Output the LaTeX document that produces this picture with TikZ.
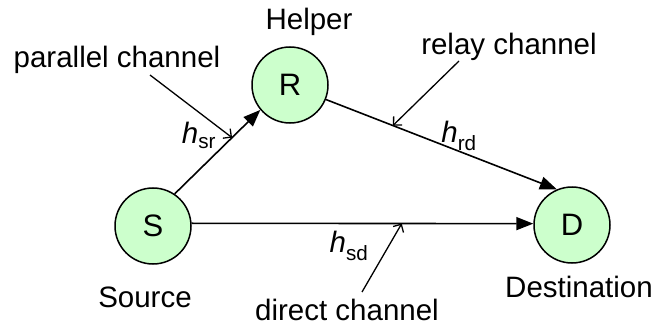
\documentclass[tikz,border=0pt]{standalone}
\usepackage{fontspec}
\setmainfont{Liberation Sans}
\usetikzlibrary{arrows.meta}
\definecolor{nodegreen}{RGB}{204,255,204}

\begin{document}
\begin{tikzpicture}[x=1pt,y=-1pt,font=\fontsize{29.5}{34}\selectfont,
	term/.style={circle,draw,line width=1.5pt,fill=nodegreen,minimum size=76pt,inner sep=0pt,
		font=\fontsize{31}{36}\selectfont},
	link/.style={line width=1.6pt,-{Triangle[length=17pt,width=13pt]}},
	pointer/.style={line width=1.3pt,-{Straight Barb[length=6pt,width=12pt]}},
	txt/.style={anchor=base,inner sep=0pt}]
			\useasboundingbox (0,0) rectangle (659,329);
			\node[term] (S) at (153,226) {S};
			\node[term] (R) at (290,85) {R};
			\node[term] (D) at (572,225) {D};
			\node[txt] (helper) at (309,30) {Helper};
			\node[txt] (source) at (145,307) {Source};
			\node[txt] (dest) at (579,297) {Destination};
			\draw[link] (S.56) -- (R.220) coordinate[pos=0.67] (psr);
			\draw[link] (R.-22) -- (D.113) coordinate[pos=0.29] (prd);
			\draw[link] (S.4) -- (D.178) coordinate[pos=0.615] (psd);
			\node[txt] (hsr) at (199,143) {\textit{h}\raisebox{-2pt}{\textsubscript{sr}}};
			\node[txt] (hrd) at (459,142) {\textit{h}\raisebox{-2pt}{\textsubscript{rd}}};
			\node[txt] (hsd) at (349,252) {\textit{h}\raisebox{-2pt}{\textsubscript{sd}}};
			\node[txt] (par) at (117,68) {parallel channel};
			\node[txt] (rel) at (509,55) {relay channel};
			\node[txt] (dir) at (347,320) {direct channel};
			\coordinate (par0) at (150,75);
			\coordinate (rel0) at (459,61);
			\coordinate (dir0) at (362,292);
			\draw[pointer] (par0) -- (psr);
			\draw[pointer] (rel0) -- (prd);
			\draw[pointer] (dir0) -- (psd);
		\end{tikzpicture}
\end{document}
